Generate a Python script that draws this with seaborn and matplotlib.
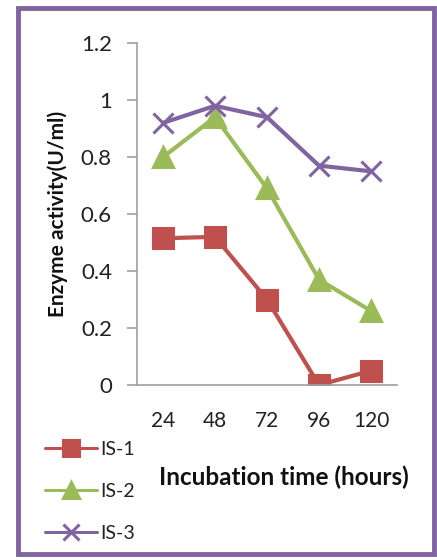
import matplotlib
matplotlib.use("Agg")
import matplotlib.pyplot as plt
import seaborn as sns
import pandas as pd
from matplotlib.patches import Rectangle

hours = ["24", "48", "72", "96", "120"]
is1 = [0.515, 0.52, 0.30, 0.0, 0.05]
is2 = [0.80, 0.94, 0.69, 0.37, 0.26]
is3 = [0.92, 0.98, 0.94, 0.77, 0.75]
series_names = ["IS-1", "IS-2", "IS-3"]

sns.set_style("white")
plt.rcParams['font.family'] = ['Lato', 'DejaVu Sans']

colors = {"IS-1": "#C0504D", "IS-2": "#9BBB59", "IS-3": "#8064A2"}
markers = {"IS-1": "s", "IS-2": "^", "IS-3": "x"}

fig = plt.figure(figsize=(4.37, 5.6), dpi=100)
ax = fig.add_axes([0.3135, 0.3125, 0.595, 0.6105])

for name, vals in zip(series_names, [is1, is2, is3]):
    d = pd.DataFrame({"hours": hours, "activity": vals})
    sns.lineplot(data=d, x="hours", y="activity", ax=ax, color=colors[name],
                 marker=markers[name], linewidth=3, markersize=14,
                 markeredgewidth=2.2, markeredgecolor=colors[name],
                 sort=False, label=name)

ax.set_ylim(0, 1.2)
ax.set_xlim(-0.5, 4.5)
ax.set_yticks([0, 0.2, 0.4, 0.6, 0.8, 1.0, 1.2])
ax.set_yticklabels(["0", "0.2", "0.4", "0.6", "0.8", "1", "1.2"])
ax.tick_params(axis="y", length=7, width=1.2, color="#A0A0A0", labelsize=16, pad=11,
               left=True, direction="out", labelcolor="#222222")
ax.tick_params(axis="x", length=0, labelsize=15, pad=19, labelcolor="#222222")
for s in ["top", "right"]:
    ax.spines[s].set_visible(False)
for s in ["left", "bottom"]:
    ax.spines[s].set_color("#A0A0A0")
    ax.spines[s].set_linewidth(1.2)

ax.set_xlabel("")
ax.set_ylabel("Enzyme activity(U/ml)", fontsize=15, fontweight="bold", color="#111111")
ax.yaxis.set_label_coords(-0.265, 0.5)

fig.text(0.65, 0.147, "Incubation time (hours)", fontsize=17.5, fontweight="bold",
         ha="center", va="center", color="#111111")

handles, labels = ax.get_legend_handles_labels()
if ax.legend_:
    ax.legend_.remove()
leg = fig.legend(handles, labels, loc="upper left", bbox_to_anchor=(0.085, 0.227),
                 frameon=False, fontsize=14, labelspacing=1.3, handlelength=2.7,
                 handletextpad=0.15, borderaxespad=0, markerscale=0.8)
for ln in leg.get_lines():
    ln.set_linewidth(2.2)
for t in leg.get_texts():
    t.set_color("#222222")

fig.patches.append(Rectangle((0.041, 0.01), 0.952, 0.975, transform=fig.transFigure,
                             fill=False, edgecolor="#8064A2", linewidth=3.5))

fig.savefig("out.png", dpi=100, facecolor="white")
